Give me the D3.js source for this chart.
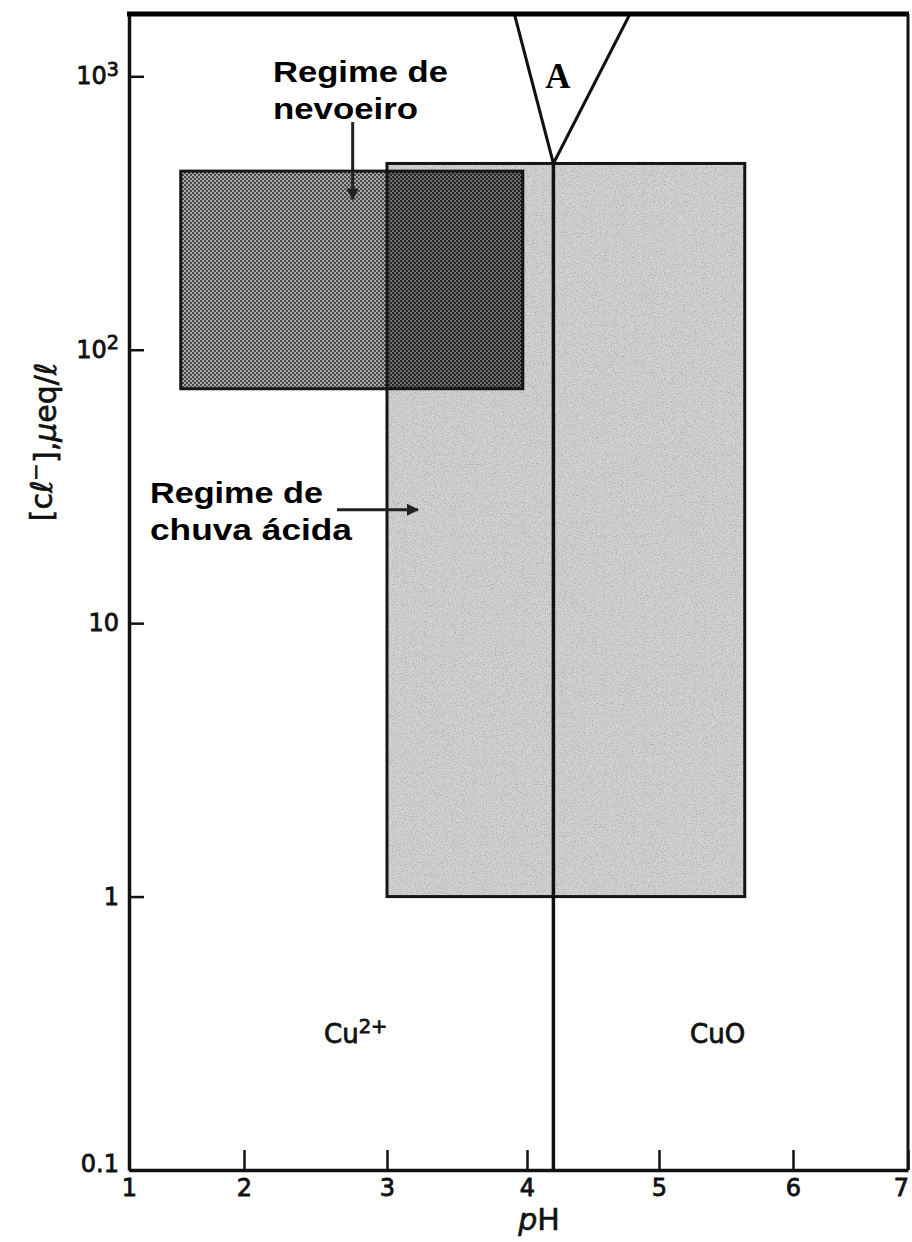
<!DOCTYPE html>
<html>
<head>
<meta charset="utf-8">
<script src="https://cdn.jsdelivr.net/npm/d3@7"></script>
<style>
  body { margin: 0; background: #fff; }
  svg { display: block; }
  .tick text { font-family: "DejaVu Sans", sans-serif; font-size: 24px; fill: #111; stroke: #111; stroke-width: 0.8px; }
  .note { font-family: "Liberation Sans", Arial, sans-serif; font-weight: bold; font-size: 29px; fill: #000; }
  .species { font-family: "DejaVu Sans", sans-serif; font-size: 26px; fill: #111; stroke: #111; stroke-width: 0.8px; }
  .title { font-family: "DejaVu Sans", sans-serif; font-size: 30px; fill: #111; stroke: #111; stroke-width: 0.6px; }
</style>
</head>
<body>
<div id="chart"></div>
<script>
// axis ticks
const phTicks = [1, 2, 3, 4, 5, 6, 7];
const clTicks = [0.1, 1, 10, 100, 1000];
const clMax = 1690;

// acid rain regime box (pH range, Cl- range)
const acidPH = [3.0, 5.64];
const acidCl = [1.0, 480];
// fog regime box
const fogPH = [1.45, 3.97];
const fogCl = [72, 450];

// Cu2+ / CuO boundary and the wedge "A"
const boundaryPH = 4.2;
const wedgeTopPH = [3.91, 4.78];
const wedgeApexCl = 480;

// annotation arrows [pH, Cl] from -> to
const fogArrow = [[2.76, 680], [2.76, 355]];
const rainArrow = [[2.65, 26], [3.22, 26]];

const width = 912, height = 1242;

const svg = d3.select('#chart').append('svg')
  .attr('width', width)
  .attr('height', height);

// pH axis is a bit uneven on the scan, so calibrate per tick
const x = d3.scaleLinear().domain(phTicks).range([129, 244, 387, 527, 659, 793, 908]);
const y = d3.scaleLog().domain([clTicks[0], clMax]).range([1170, 14]);

const defs = svg.append('defs');

function dotPattern(id, bg, dot) {
  const p = defs.append('pattern')
    .attr('id', id)
    .attr('width', 4).attr('height', 4)
    .attr('patternUnits', 'userSpaceOnUse');
  p.append('rect').attr('width', 4).attr('height', 4).attr('fill', bg);
  p.append('circle').attr('cx', 1).attr('cy', 1).attr('r', 1.3).attr('fill', dot);
  p.append('circle').attr('cx', 3).attr('cy', 3).attr('r', 1.3).attr('fill', dot);
}
dotPattern('fog', '#b8b8b8', '#4a4a4a');
dotPattern('fogDark', '#7a7a7a', '#262626');

defs.append('marker')
  .attr('id', 'arrow')
  .attr('viewBox', '0 0 10 10')
  .attr('refX', 9).attr('refY', 5)
  .attr('markerWidth', 4).attr('markerHeight', 4)
  .attr('orient', 'auto')
  .append('path')
  .attr('d', 'M0,0L10,5L0,10Z')
  .attr('fill', '#222');

// speckle for the grey box
const f = defs.append('filter').attr('id', 'speckle').attr('x', 0).attr('y', 0).attr('width', 1).attr('height', 1);
f.append('feTurbulence').attr('type', 'fractalNoise').attr('baseFrequency', 0.9).attr('numOctaves', 2).attr('seed', 3).attr('result', 'noise');
f.append('feColorMatrix').attr('in', 'noise').attr('type', 'matrix')
  .attr('values', '0 0 0 0 0  0 0 0 0 0  0 0 0 0 0  0 0 0 -0.9 0.5')
  .attr('result', 'dots');
f.append('feComposite').attr('in', 'dots').attr('in2', 'SourceGraphic').attr('operator', 'in').attr('result', 'd2');
f.append('feMerge').call(m => {
  m.append('feMergeNode').attr('in', 'SourceGraphic');
  m.append('feMergeNode').attr('in', 'd2');
});

function box(ph, cl) {
  return {
    x: x(ph[0]), y: y(cl[1]),
    w: x(ph[1]) - x(ph[0]), h: y(cl[0]) - y(cl[1])
  };
}

const acid = box(acidPH, acidCl);
const fog = box(fogPH, fogCl);
const overlap = box(
  [Math.max(acidPH[0], fogPH[0]), Math.min(acidPH[1], fogPH[1])],
  [Math.max(acidCl[0], fogCl[0]), Math.min(acidCl[1], fogCl[1])]
);

svg.append('rect')
  .attr('x', acid.x).attr('y', acid.y).attr('width', acid.w).attr('height', acid.h)
  .attr('fill', '#d2d2d2')
  .attr('filter', 'url(#speckle)');

svg.append('rect')
  .attr('x', fog.x).attr('y', fog.y).attr('width', fog.w).attr('height', fog.h)
  .attr('fill', 'url(#fog)');

svg.append('rect')
  .attr('x', overlap.x).attr('y', overlap.y).attr('width', overlap.w).attr('height', overlap.h)
  .attr('fill', 'url(#fogDark)');

[acid, fog].forEach(b => {
  svg.append('rect')
    .attr('x', b.x).attr('y', b.y).attr('width', b.w).attr('height', b.h)
    .attr('fill', 'none')
    .attr('stroke', '#151515')
    .attr('stroke-width', 3);
});

// boundary line and wedge
svg.append('line')
  .attr('x1', x(boundaryPH)).attr('x2', x(boundaryPH))
  .attr('y1', y(wedgeApexCl)).attr('y2', y(clTicks[0]))
  .attr('stroke', '#111').attr('stroke-width', 3.5);

svg.append('path')
  .attr('d', d3.line()([
    [x(wedgeTopPH[0]), y(clMax)],
    [x(boundaryPH), y(wedgeApexCl)],
    [x(wedgeTopPH[1]), y(clMax)]
  ]))
  .attr('fill', 'none')
  .attr('stroke', '#111')
  .attr('stroke-width', 3);

// axes
const xAxis = svg.append('g')
  .attr('transform', `translate(0,${y(clTicks[0])})`)
  .call(d3.axisBottom(x).tickValues(phTicks).tickSizeInner(-20).tickSizeOuter(0).tickPadding(9).tickFormat(d3.format('d')));

xAxis.selectAll('.tick text').filter(d => d === 7).attr('dx', '-0.3em');

const yAxis = svg.append('g')
  .attr('transform', `translate(${x(phTicks[0])},0)`)
  .call(d3.axisLeft(y).tickValues(clTicks).tickSizeInner(-15).tickSizeOuter(0).tickPadding(10)
    .tickFormat(d => d >= 100 ? '10' : String(d)));

yAxis.selectAll('.tick text')
  .filter(d => d >= 100)
  .append('tspan')
  .attr('dy', '-0.45em')
  .attr('font-size', '0.8em')
  .text(d => String(Math.round(Math.log10(d))));

yAxis.selectAll('.tick text').filter(d => d === 0.1).attr('dy', '0.05em');

[xAxis, yAxis].forEach(a => {
  a.select('.domain').attr('stroke', '#111').attr('stroke-width', 3.5);
  a.selectAll('.tick line').attr('stroke', '#111').attr('stroke-width', 2.5);
});

// frame: top and right
svg.append('line')
  .attr('x1', x(phTicks[0]) - 2).attr('x2', x(7) + 1)
  .attr('y1', y(clMax)).attr('y2', y(clMax))
  .attr('stroke', '#000').attr('stroke-width', 5);
svg.append('line')
  .attr('x1', x(7)).attr('x2', x(7))
  .attr('y1', y(clMax)).attr('y2', y(clTicks[0]))
  .attr('stroke', '#111').attr('stroke-width', 3);

// arrows
[fogArrow, rainArrow].forEach(a => {
  svg.append('line')
    .attr('x1', x(a[0][0])).attr('y1', y(a[0][1]))
    .attr('x2', x(a[1][0])).attr('y2', y(a[1][1]))
    .attr('stroke', '#222').attr('stroke-width', 3)
    .attr('marker-end', 'url(#arrow)');
});

// annotations
function note(lines, x0, y0, lengths) {
  lines.forEach((t, i) => {
    svg.append('text').attr('class', 'note')
      .attr('x', x0).attr('y', y0 + i * 37)
      .attr('textLength', lengths[i])
      .attr('lengthAdjust', 'spacingAndGlyphs')
      .text(t);
  });
}
note(['Regime de', 'nevoeiro'], 273, 82, [175, 145]);
note(['Regime de', 'chuva ácida'], 150, 503, [173, 202]);

svg.append('text')
  .attr('x', 558).attr('y', 88)
  .attr('text-anchor', 'middle')
  .attr('font-family', '"Liberation Serif", "Times New Roman", serif')
  .attr('font-weight', 'bold')
  .attr('font-size', 35)
  .text('A');

const cu = svg.append('text').attr('class', 'species').attr('x', 324).attr('y', 1043);
cu.append('tspan').text('Cu');
cu.append('tspan').attr('dy', '-0.5em').attr('font-size', '0.75em').text('2+');

svg.append('text').attr('class', 'species').attr('x', 690).attr('y', 1043).text('CuO');

// axis titles
const yl = svg.append('text')
  .attr('class', 'title')
  .attr('transform', 'translate(52,442) rotate(-90)')
  .attr('text-anchor', 'middle');
yl.append('tspan').text('[cℓ');
yl.append('tspan').attr('dy', '-0.45em').attr('font-size', '0.7em').text('−');
yl.append('tspan').attr('dy', '0.45em').text('],');
yl.append('tspan').attr('font-style', 'italic').text('μ');
yl.append('tspan').text('eq/ℓ');

const xl = svg.append('text')
  .attr('class', 'title')
  .attr('x', 539).attr('y', 1230)
  .attr('text-anchor', 'middle')
  .attr('font-size', 27);
xl.append('tspan').attr('font-style', 'italic').text('p');
xl.append('tspan').text('H');
</script>
</body>
</html>
